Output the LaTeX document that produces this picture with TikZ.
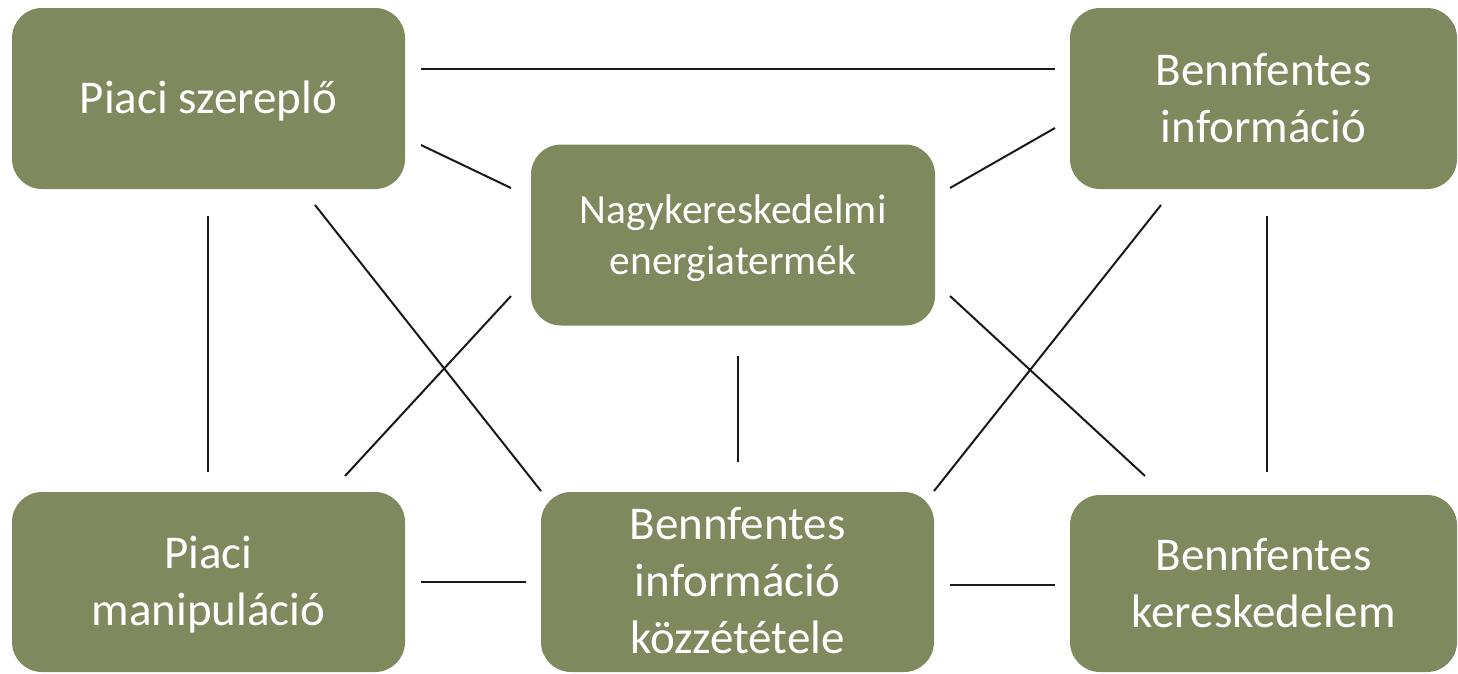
\documentclass[tikz,border=0pt]{standalone}
\usepackage{fontspec}
\setmainfont{Carlito}
\definecolor{boxgreen}{RGB}{126,137,93}
% lower the text block by #1 inside its (centred) box
\newcommand{\boxtxt}[2][4pt]{\raisebox{0pt}[\dimexpr\height+2\dimexpr#1\relax\relax][\depth]{\begin{tabular}{@{}c@{}}#2\end{tabular}}}
\tikzset{
  box/.style={rectangle, rounded corners=30pt, fill=boxgreen, text=white,
    inner sep=0pt, outer sep=0pt, font=\fontsize{47}{57}\selectfont},
  link/.style={draw=black!90, line width=2pt}
}
\begin{document}
\begin{tikzpicture}[x=1pt,y=-1pt]
\useasboundingbox (0,0) rectangle (1458,673);
% boxes
\node[box, minimum width=393pt, minimum height=181pt] (ps) at (208.5,98.5) {\boxtxt{Piaci szereplő}};
\node[box, minimum width=387pt, minimum height=181pt] (bi) at (1263.5,98.5) {\boxtxt{Bennfentes\\információ}};
\node[box, minimum width=404pt, minimum height=181pt, font=\fontsize{41.5}{51}\selectfont] (n) at (733,235) {\boxtxt{Nagykereskedelmi\\energiatermék}};
\node[box, minimum width=393pt, minimum height=180pt] (pm) at (208.5,582) {\boxtxt{Piaci\\manipuláció}};
\node[box, minimum width=393pt, minimum height=180pt] (bik) at (737.5,582) {\boxtxt[3pt]{Bennfentes\\információ\\közzététele}};
\node[box, minimum width=387pt, minimum height=177pt] (bk) at (1263.5,583.5) {\boxtxt{Bennfentes\\kereskedelem}};
% connector end points
\coordinate (a1) at (421,69);   \coordinate (a2) at (1055,69);
\coordinate (b1) at (421,145);  \coordinate (b2) at (511,188);
\coordinate (c1) at (1055,128); \coordinate (c2) at (950,188);
\coordinate (d1) at (208,216);  \coordinate (d2) at (208,472);
\coordinate (e1) at (315,205);  \coordinate (e2) at (541,491);
\coordinate (f1) at (511,296);  \coordinate (f2) at (345,476);
\coordinate (g1) at (737.5,356);\coordinate (g2) at (737.5,462);
\coordinate (h1) at (950,296);  \coordinate (h2) at (1145,476);
\coordinate (i1) at (1161,205); \coordinate (i2) at (934,491);
\coordinate (j1) at (1267,216); \coordinate (j2) at (1267,472);
\coordinate (k1) at (421,582);  \coordinate (k2) at (526,582);
\coordinate (l1) at (950,585);  \coordinate (l2) at (1055,585);
% connectors
\draw[link] (a1) -- (a2);
\draw[link] (b1) -- (b2);
\draw[link] (c1) -- (c2);
\draw[link] (d1) -- (d2);
\draw[link] (e1) -- (e2);
\draw[link] (f1) -- (f2);
\draw[link] (g1) -- (g2);
\draw[link] (h1) -- (h2);
\draw[link] (i1) -- (i2);
\draw[link] (j1) -- (j2);
\draw[link] (k1) -- (k2);
\draw[link] (l1) -- (l2);
\end{tikzpicture}
\end{document}
